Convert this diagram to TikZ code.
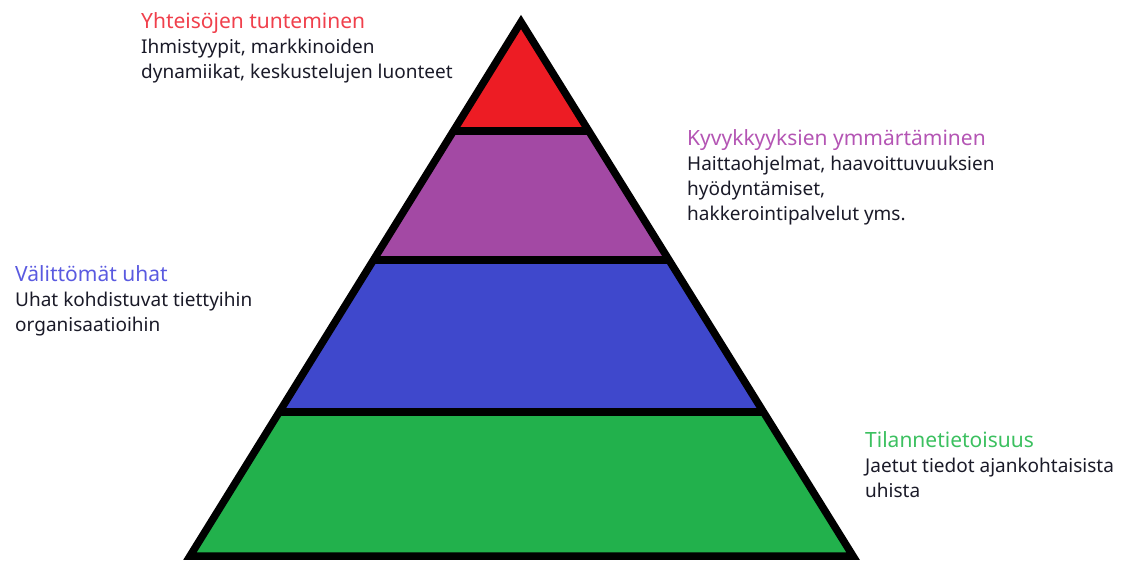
\documentclass[tikz,border=0pt]{standalone}
\usepackage{fontspec}
\setmainfont{Noto Sans}
\usetikzlibrary{calc}
\definecolor{pred}{HTML}{ED1C24}
\definecolor{ppurple}{HTML}{A349A4}
\definecolor{pblue}{HTML}{3F48CC}
\definecolor{pgreen}{HTML}{22B14C}
\definecolor{tred}{HTML}{F0404C}
\definecolor{tpurple}{HTML}{B455B4}
\definecolor{tblue}{HTML}{5A5AE0}
\definecolor{tgreen}{HTML}{3CC060}
\definecolor{tbody}{HTML}{1A1A28}
\begin{document}
\begin{tikzpicture}[x=1pt,y=-1pt,
  lbl/.style={anchor=base west,inner sep=0pt,font=\fontsize{21}{24}\selectfont},
  body/.style={anchor=base west,inner sep=0pt,font=\fontsize{19}{22}\selectfont,text=tbody},
  outline/.style={line width=7.5pt,black}]
\useasboundingbox (0,0) rectangle (1122,563);
\coordinate (A) at (521,22);
\coordinate (L) at (190,556);
\coordinate (R) at (853,556);
% bands
\begin{scope}
\clip (A) -- (L) -- (R) -- cycle;
\fill[pred] (150,0) rectangle (900,131);
\fill[ppurple] (150,131) rectangle (900,260);
\fill[pblue] (150,260) rectangle (900,412);
\fill[pgreen] (150,412) rectangle (900,563);
\end{scope}
% separator lines
\coordinate (s1l) at ($(A)!{(131-22)/534}!(L)$);
\coordinate (s1r) at ($(A)!{(131-22)/534}!(R)$);
\coordinate (s2l) at ($(A)!{(260-22)/534}!(L)$);
\coordinate (s2r) at ($(A)!{(260-22)/534}!(R)$);
\coordinate (s3l) at ($(A)!{(412-22)/534}!(L)$);
\coordinate (s3r) at ($(A)!{(412-22)/534}!(R)$);
\draw[outline] (s1l) -- (s1r);
\draw[outline] (s2l) -- (s2r);
\draw[outline] (s3l) -- (s3r);
\draw[outline] (A) -- (L) -- (R) -- cycle;
% texts
\node[lbl,text=tred] (t1) at (141,28) {Yhteisöjen tunteminen};
\node[body] (t1a) at (141,53) {Ihmistyypit, markkinoiden};
\node[body] (t1b) at (141,78) {dynamiikat, keskustelujen luonteet};
\node[lbl,text=tpurple] (t2) at (687,145) {Kyvykkyyksien ymmärtäminen};
\node[body] (t2a) at (687,170) {Haittaohjelmat, haavoittuvuuksien};
\node[body] (t2b) at (687,195) {hyödyntämiset,};
\node[body] (t2c) at (687,220) {hakkerointipalvelut yms.};
\node[lbl,text=tblue] (t3) at (15,281) {Välittömät uhat};
\node[body] (t3a) at (15,306) {Uhat kohdistuvat tiettyihin};
\node[body] (t3b) at (15,331) {organisaatioihin};
\node[lbl,text=tgreen] (t4) at (865,447) {Tilannetietoisuus};
\node[body] (t4a) at (865,472) {Jaetut tiedot ajankohtaisista};
\node[body] (t4b) at (865,497) {uhista};
\end{tikzpicture}
\end{document}
